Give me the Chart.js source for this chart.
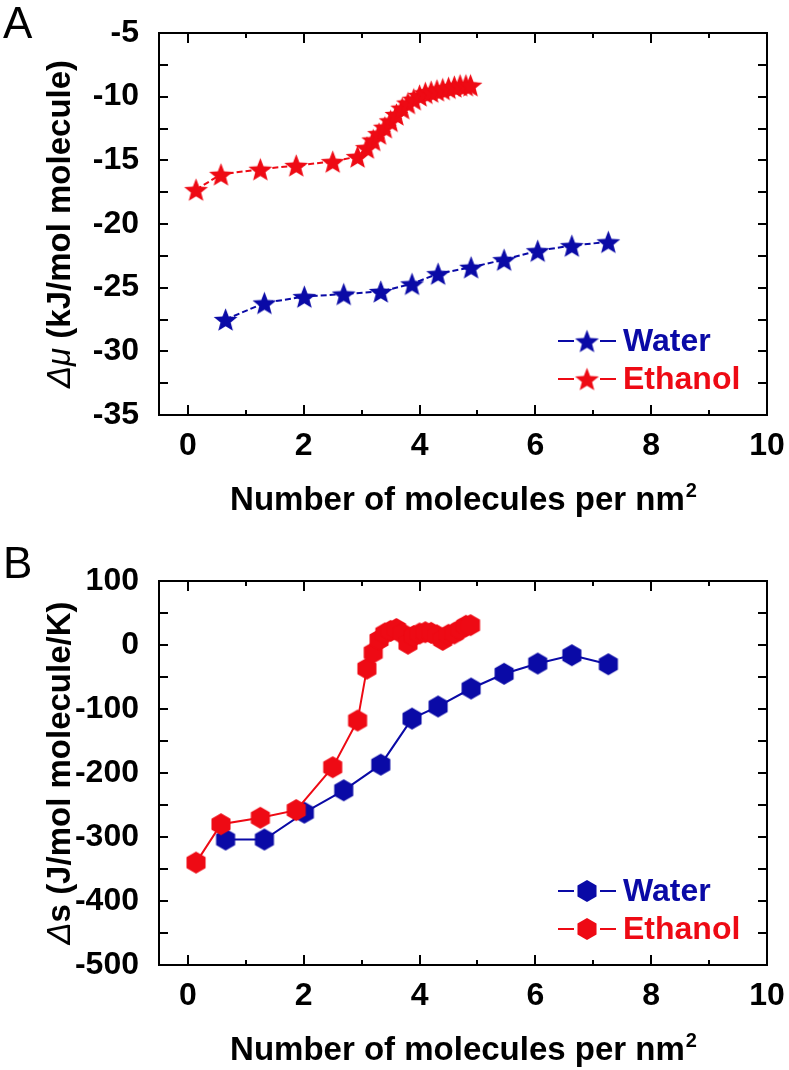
<!DOCTYPE html>
<html>
<head>
<meta charset="utf-8">
<script src="https://cdn.jsdelivr.net/npm/chart.js@4.4.0/dist/chart.umd.min.js"></script>
<style>
  html, body { margin: 0; padding: 0; background: #fff; }
  body { width: 789px; height: 1070px; position: relative; overflow: hidden; }
  .panel { position: absolute; left: 0; width: 789px; }
</style>
</head>
<body>
<div class="panel" style="top:0;height:530px"><canvas id="chartA"></canvas></div>
<div class="panel" style="top:535px;height:535px"><canvas id="chartB"></canvas></div>
<script>
// ---- data ----
const waterX = [0.65, 1.32, 2.01, 2.69, 3.33, 3.87, 4.32, 4.89, 5.46, 6.04, 6.63, 7.26];
const waterMu = [-27.5, -26.2, -25.7, -25.5, -25.3, -24.7, -23.9, -23.4, -22.8, -22.1, -21.7, -21.4];
const waterS = [-304, -304, -262, -227, -187, -115, -96, -68, -45, -29, -16, -30];

const ethanolX = [0.14, 0.57, 1.25, 1.87, 2.50, 2.93, 3.09, 3.20, 3.30, 3.40, 3.50, 3.60, 3.70,
                  3.80, 3.90, 4.00, 4.10, 4.20, 4.30, 4.40, 4.50, 4.60, 4.70, 4.80, 4.88];
const ethanolMu = [-17.3, -16.1, -15.7, -15.4, -15.1, -14.7, -14.0, -13.4, -12.9, -12.4, -11.9, -11.4, -10.9,
                   -10.5, -10.2, -9.9, -9.7, -9.6, -9.5, -9.4, -9.3, -9.2, -9.1, -9.1, -9.1];
const ethanolS = [-340, -280, -270, -258, -191, -118, -37, -12, 8, 18, 22, 25, 18,
                  2, 14, 18, 20, 19, 15, 8, 16, 18, 24, 30, 31];

const xTicks = [0, 2, 4, 6, 8, 10];
const muTicks = [-35, -30, -25, -20, -15, -10, -5];
const sTicks = [-500, -400, -300, -200, -100, 0, 100];

const BLUE = '#0a0aa6';
const RED = '#ee0a14';
const FONT = '"Liberation Sans", Arial, sans-serif';

// ---- marker images ----
function starImg(color, r) {
  const c = document.createElement('canvas');
  const s = Math.ceil(r * 2 + 2);
  c.width = c.height = s;
  const g = c.getContext('2d');
  g.translate(s / 2, s / 2 + r * 0.1);
  g.beginPath();
  for (let i = 0; i < 10; i++) {
    const a = -Math.PI / 2 + i * Math.PI / 5;
    const rr = i % 2 ? r * 0.43 : r;
    g.lineTo(Math.cos(a) * rr, Math.sin(a) * rr);
  }
  g.closePath();
  g.fillStyle = color;
  g.fill();
  return c;
}

function hexImg(color, r) {
  const c = document.createElement('canvas');
  const s = Math.ceil(r * 2 + 2);
  c.width = c.height = s;
  const g = c.getContext('2d');
  g.translate(s / 2, s / 2);
  g.beginPath();
  for (let i = 0; i < 6; i++) {
    const a = -Math.PI / 2 + i * Math.PI / 3;
    g.lineTo(Math.cos(a) * r, Math.sin(a) * r);
  }
  g.closePath();
  g.fillStyle = color;
  g.fill();
  return c;
}

function pts(xs, ys) {
  return xs.map((x, i) => ({ x: x, y: ys[i] }));
}

// ---- frame, inward ticks, titles, legend ----
const decor = {
  id: 'decor',
  afterDraw(chart, args, o) {
    const ctx = chart.ctx;
    const a = chart.chartArea;
    const sx = chart.scales.x, sy = chart.scales.y;
    ctx.save();
    ctx.strokeStyle = '#000';
    ctx.lineWidth = 2;
    ctx.strokeRect(a.left, a.top, a.right - a.left, a.bottom - a.top);

    const mids = arr => arr.slice(1).map((v, i) => (v + arr[i]) / 2);
    ctx.beginPath();
    const xt = (vals, len) => vals.forEach(v => {
      const px = Math.round(sx.getPixelForValue(v));
      ctx.moveTo(px, a.bottom); ctx.lineTo(px, a.bottom - len);
      ctx.moveTo(px, a.top); ctx.lineTo(px, a.top + len);
    });
    const yt = (vals, len) => vals.forEach(v => {
      const py = Math.round(sy.getPixelForValue(v));
      ctx.moveTo(a.left, py); ctx.lineTo(a.left + len, py);
      ctx.moveTo(a.right, py); ctx.lineTo(a.right - len, py);
    });
    xt(xTicks, 10); xt(mids(xTicks), 5);
    yt(o.yTicks, 9); yt(mids(o.yTicks), 9);
    ctx.stroke();

    // legend
    chart.data.datasets.forEach((ds, i) => {
      const y = a.bottom - 74 + i * 38;
      const cx = a.left + 428;
      ctx.strokeStyle = ds.borderColor;
      ctx.lineWidth = 2;
      ctx.setLineDash([]);
      ctx.beginPath();
      ctx.moveTo(cx - 29, y); ctx.lineTo(cx - 13, y);
      ctx.moveTo(cx + 13, y); ctx.lineTo(cx + 29, y);
      ctx.stroke();
      const img = ds.pointStyle;
      ctx.drawImage(img, cx - img.width / 2, y - img.height / 2);
      ctx.fillStyle = ds.borderColor;
      ctx.font = 'bold 32px ' + FONT;
      ctx.textBaseline = 'middle';
      ctx.textAlign = 'left';
      ctx.fillText(ds.label, a.left + 464, y + 1);
    });

    // x title
    ctx.fillStyle = '#000';
    ctx.textBaseline = 'alphabetic';
    ctx.font = 'bold 33px ' + FONT;
    const t1 = 'Number of molecules per nm';
    const w1 = ctx.measureText(t1).width;
    ctx.font = 'bold 20px ' + FONT;
    const w2 = ctx.measureText('2').width;
    const x0 = (a.left + a.right) / 2 - (w1 + w2) / 2;
    const by = a.bottom + 95;
    ctx.font = 'bold 33px ' + FONT;
    ctx.fillText(t1, x0, by);
    ctx.font = 'bold 20px ' + FONT;
    ctx.fillText('2', x0 + w1 + 1, by - 13);

    // y title (mixed fonts)
    ctx.save();
    ctx.translate(61, (a.top + a.bottom) / 2);
    ctx.rotate(-Math.PI / 2);
    ctx.textBaseline = 'middle';
    let total = 0;
    o.yTitle.forEach(s => { ctx.font = s.f; total += ctx.measureText(s.t).width; });
    let px = -total / 2;
    o.yTitle.forEach(s => {
      ctx.font = s.f;
      ctx.fillText(s.t, px, 0);
      px += ctx.measureText(s.t).width;
    });
    ctx.restore();

    // panel letter
    ctx.font = '44px ' + FONT;
    ctx.textBaseline = 'alphabetic';
    ctx.fillText(o.letter, 3, o.letterY);
    ctx.restore();
  }
};

function makeChart(id, yTicksArr, sets, opts) {
  const tickFont = { family: FONT, size: 32, weight: 'bold' };
  return new Chart(document.getElementById(id), {
    type: 'line',
    data: { datasets: sets },
    options: {
      responsive: true,
      maintainAspectRatio: false,
      animation: false,
      events: [],
      layout: { padding: { top: opts.top, right: 22, left: 0, bottom: 0 } },
      plugins: {
        legend: { display: false },
        tooltip: { enabled: false },
        decor: { yTicks: yTicksArr, yTitle: opts.yTitle, letter: opts.letter, letterY: opts.letterY }
      },
      scales: {
        x: {
          type: 'linear', min: -0.5, max: 10,
          grid: { display: false }, border: { display: false },
          ticks: { font: tickFont, color: '#000', padding: 4, maxRotation: 0 },
          afterBuildTicks: s => { s.ticks = xTicks.map(v => ({ value: v })); },
          afterFit: s => { s.height = opts.xH; }
        },
        y: {
          type: 'linear', min: yTicksArr[0], max: yTicksArr[yTicksArr.length - 1],
          grid: { display: false }, border: { display: false },
          ticks: { font: tickFont, color: '#000', padding: 12 },
          afterBuildTicks: s => { s.ticks = yTicksArr.map(v => ({ value: v })); },
          afterFit: s => { s.width = 159; }
        }
      }
    },
    plugins: [decor]
  });
}

makeChart('chartA', muTicks, [
  { label: 'Water', data: pts(waterX, waterMu), borderColor: BLUE, borderWidth: 2, borderDash: [6, 3],
    pointStyle: starImg(BLUE, 12.5), order: 1 },
  { label: 'Ethanol', data: pts(ethanolX, ethanolMu), borderColor: RED, borderWidth: 2, borderDash: [6, 3],
    pointStyle: starImg(RED, 12.5), order: 0 }
], {
  top: 33, xH: 115, letter: 'A', letterY: 38,
  yTitle: [{ t: '\u0394\u03bc', f: 'italic 33px ' + FONT }, { t: ' (kJ/mol molecule)', f: 'bold 33px ' + FONT }]
});

makeChart('chartB', sTicks, [
  { label: 'Water', data: pts(waterX, waterS), borderColor: BLUE, borderWidth: 2,
    pointStyle: hexImg(BLUE, 11), order: 1 },
  { label: 'Ethanol', data: pts(ethanolX, ethanolS), borderColor: RED, borderWidth: 2,
    pointStyle: hexImg(RED, 11), order: 0 }
], {
  top: 46, xH: 105, letter: 'B', letterY: 43,
  yTitle: [{ t: '\u0394', f: 'italic 33px ' + FONT }, { t: 's (J/mol molecule/K)', f: 'bold 33px ' + FONT }]
});
</script>
</body>
</html>
